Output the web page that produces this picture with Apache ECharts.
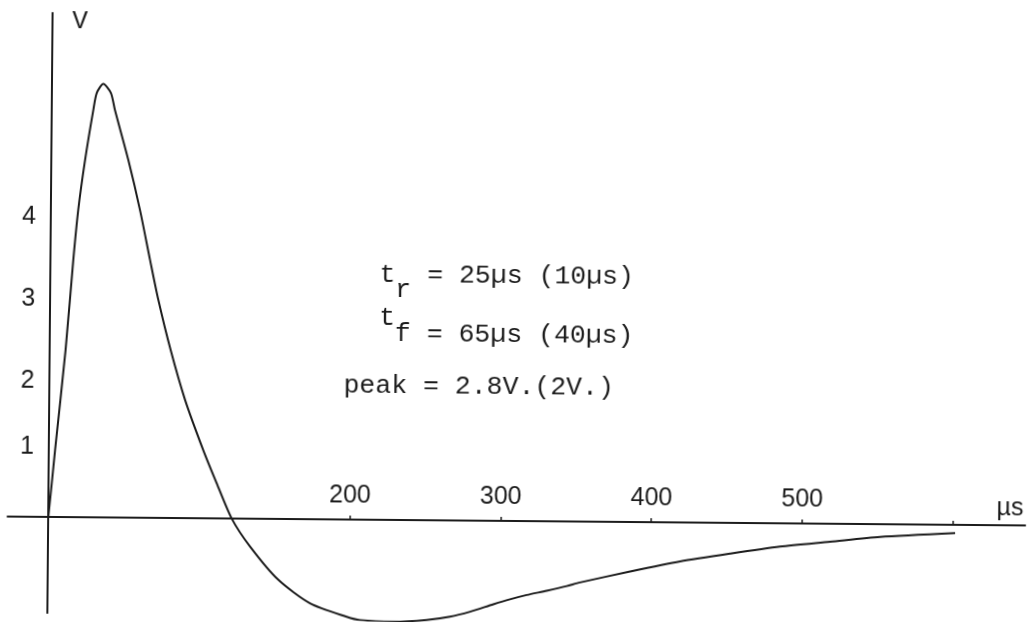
<!DOCTYPE html>
<html>
<head>
<meta charset="utf-8">
<script src="https://cdn.jsdelivr.net/npm/echarts@6/dist/echarts.min.js"></script>
<style>
html,body{margin:0;padding:0;background:#fff;overflow:hidden;}
#chart{width:1033px;height:623px;transform:rotate(0.5deg);transform-origin:50% 50%;}
</style>
</head>
<body>
<div id="chart"></div>
<script>
// time in microseconds
const timeUs = [0, 2.1, 4.1, 10.5, 15.1, 18.1, 22.3, 27.5, 29.7, 34.0, 39.1, 41.9, 51.0, 59.1, 66.0, 71.7, 80.2, 90.0, 102.4, 111.5, 121.7, 134.0, 152.9, 174.1, 198.5, 207.4, 229.5, 251.6, 267.0, 280.3, 295.7, 306.7, 317.8, 331.0, 344.3, 353.1, 386.2, 419.3, 452.4, 485.5, 518.7, 551.8, 601.6];
// voltage (axis units)
const voltage = [0, 0.45, 0.89, 2.23, 3.43, 4.10, 4.76, 5.43, 5.66, 5.78, 5.66, 5.43, 4.77, 4.10, 3.44, 2.91, 2.24, 1.58, 0.91, 0.47, 0.0, -0.37, -0.81, -1.12, -1.295, -1.337, -1.356, -1.329, -1.283, -1.214, -1.112, -1.044, -0.984, -0.925, -0.860, -0.810, -0.66, -0.52, -0.41, -0.31, -0.24, -0.17, -0.11];
// tick values / labels as printed
const xTickValues = [200, 300, 400, 500, 600];
const xLabelValues = [200, 300, 400, 500];
const yTickValues = [0.935, 1.81, 2.91, 4.0];
const yTickLabels = ['1', '2', '3', '4'];
// annotation lines (monospaced columns)
const annoRise = ['t', 'r', '   = 25µs (10µs)'];
const annoFall = ['t', 'f', '   = 65µs (40µs)'];
const annoPeak = 'peak = 2.8V.(2V.)';

const ink = '#1c1c1c';
const seriesData = timeUs.map((t, i) => [t, voltage[i]]);
const mono = 'Liberation Mono';
const sans = 'Liberation Sans';
const pitch = 15.9;
const monoSize = 25;
const sx = pitch / (monoSize * 0.6);

function monoText(str, x, y) {
  return {
    type: 'text', x: x, y: y, scaleX: sx, silent: true,
    style: { text: str, fontFamily: mono, fontSize: monoSize, fill: ink, align: 'left', verticalAlign: 'middle' }
  };
}

const chart = echarts.init(document.getElementById('chart'), null, { renderer: 'canvas' });
chart.setOption({
  animation: false,
  backgroundColor: '#ffffff',
  grid: { left: 9.4, right: 6, top: 17.1, bottom: 5.9, containLabel: false, outerBoundsMode: 'none' },
  xAxis: {
    type: 'value', min: -27, max: 648, position: 'bottom', offset: -96,
    name: 'µs', nameLocation: 'end', nameGap: -15.3, nameMoveOverlap: false,
    nameTextStyle: { fontFamily: sans, fontSize: 25, color: ink, align: 'center', verticalAlign: 'bottom', padding: [0, 0, 4, 0] },
    axisLine: { show: true, onZero: false, lineStyle: { color: ink, width: 2 } },
    axisTick: { show: true, customValues: xTickValues, inside: true, length: 4, lineStyle: { color: ink, width: 1.5 } },
    axisLabel: { show: true, customValues: xLabelValues, inside: true, margin: 11, fontFamily: sans, fontSize: 25, color: ink },
    splitLine: { show: false }
  },
  yAxis: {
    type: 'value', min: -1.28, max: 6.72, position: 'left', offset: -40.7,
    name: 'V', nameLocation: 'end', nameGap: -8.2, nameMoveOverlap: false,
    nameTextStyle: { fontFamily: mono, fontSize: 26, color: ink, align: 'left', verticalAlign: 'middle', padding: [0, 0, 0, 19.6] },
    axisLine: { show: true, onZero: false, lineStyle: { color: ink, width: 2 } },
    axisTick: { show: false },
    axisLabel: {
      show: true, customValues: yTickValues, margin: 15, fontFamily: sans, fontSize: 25, color: ink,
      formatter: function (v) {
        let best = 0, d = Infinity;
        yTickValues.forEach((t, i) => { if (Math.abs(t - v) < d) { d = Math.abs(t - v); best = i; } });
        return yTickLabels[best];
      }
    },
    splitLine: { show: false }
  },
  series: [{
    type: 'line', data: seriesData, showSymbol: false, symbol: 'none',
    smooth: 0.25, clip: false,
    lineStyle: { color: ink, width: 2 }
  }],
  graphic: [
    monoText(annoRise[0], 379.2, 276.2),
    monoText(annoRise[1], 379.2 + pitch, 291.2),
    monoText(annoRise[2], 379.2, 276.2),
    monoText(annoFall[0], 379.2, 319.5),
    monoText(annoFall[1], 379.2 + pitch, 335.5),
    monoText(annoFall[2], 379.2, 335.5),
    monoText(annoPeak, 344.2, 387.1)
  ]
});
</script>
</body>
</html>
